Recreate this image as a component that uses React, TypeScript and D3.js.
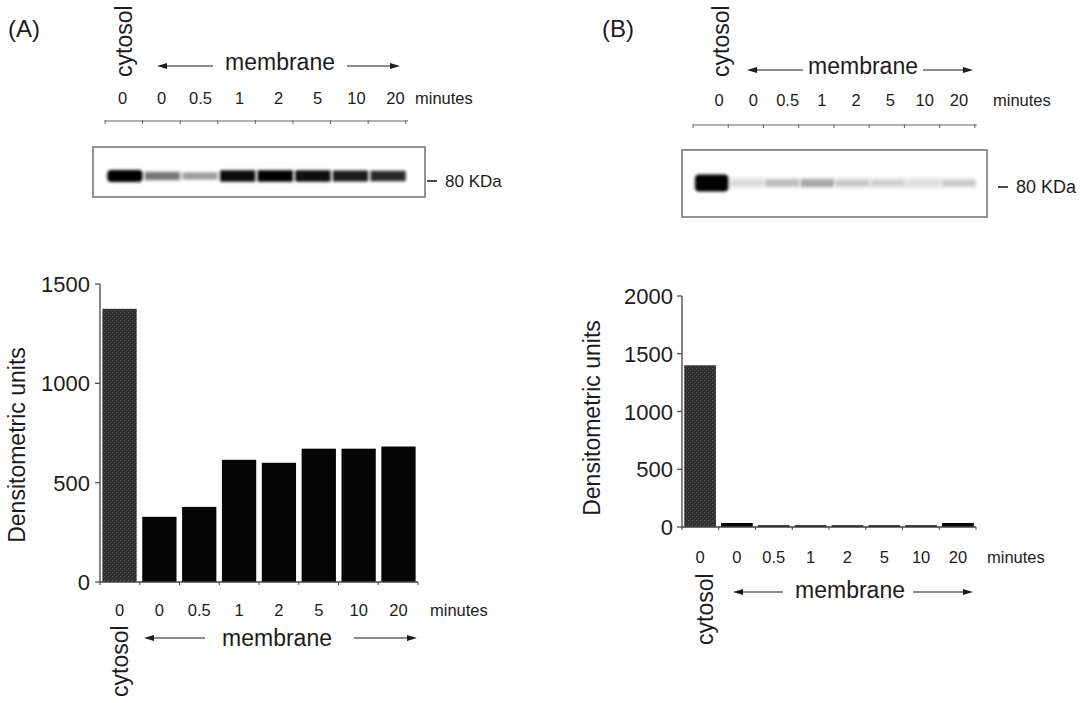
import * as d3 from 'd3';
import { useEffect, useRef } from 'react';

// lane labels (minutes), first lane is cytosol, others membrane
const lanes = ['0', '0', '0.5', '1', '2', '5', '10', '20'];

// densitometric units
const densityA = [1375, 328, 378, 615, 600, 671, 671, 682];
const densityB = [1400, 35, 15, 15, 15, 15, 15, 35];

const ticksA = [0, 500, 1000, 1500];
const ticksB = [0, 500, 1000, 1500, 2000];

// band darkness on the blots (0..1)
const bandsA = [1, 0.5, 0.35, 0.9, 0.95, 0.9, 0.85, 0.8];
const bandsB = [1, 0.08, 0.2, 0.28, 0.15, 0.12, 0.06, 0.14];

const font = "'Liberation Sans', Arial, Helvetica, sans-serif";
const ink = '#1c1c1c';

const panels = [
  {
    letter: '(A)',
    letterX: 8,
    letterY: 37,
    values: densityA,
    ticks: ticksA,
    bands: bandsA,
    top: {
      cytoX: 132, cytoY: 77,
      memX: 280, memY: 70, arrowY: 66, arrowL: [157, 213], arrowR: [347, 400],
      labelY: 104, labelRange: [103, 415], minutesX: 415,
      lineY: 121, laneRange: [105, 408],
      box: [93, 147, 425, 197], bandY: 176, bandH: [5, 7], bandSmear: 0,
      kdaX: 427, kdaY: 181, kdaSize: 17,
    },
    chart: {
      x: [100, 418], y: [582, 284], tickX: 90,
      labelY: 616, minutesX: 430,
      cytoX: 128, cytoY: 697,
      memX: 277, memY: 646, arrowY: 638, arrowL: [144, 205], arrowR: [354, 417],
      titleX: 25, titleY: 445,
    },
  },
  {
    letter: '(B)',
    letterX: 602,
    letterY: 37,
    values: densityB,
    ticks: ticksB,
    bands: bandsB,
    top: {
      cytoX: 729, cytoY: 77,
      memX: 863, memY: 74, arrowY: 70, arrowL: [747, 803], arrowR: [923, 973],
      labelY: 106, labelRange: [702, 976], minutesX: 993,
      lineY: 125, laneRange: [693, 977],
      box: [682, 150, 987, 217], bandY: 183, bandH: [4, 13], bandSmear: 0.07,
      kdaX: 998, kdaY: 187, kdaSize: 18,
    },
    chart: {
      x: [682, 976], y: [527, 296], tickX: 673,
      labelY: 563, minutesX: 987,
      cytoX: 713, cytoY: 645,
      memX: 850, memY: 598, arrowY: 592, arrowL: [733, 783], arrowR: [913, 973],
      titleX: 600, titleY: 418,
    },
  },
];

function App() {
  const chartRef = useRef<SVGSVGElement>(null);

  useEffect(() => {
    const svg = d3.select(chartRef.current);
    svg.selectAll('*').remove();

    const defs = svg.append('defs');
    // stippled fill of the cytosol bar
    const pat = defs
      .append('pattern')
      .attr('id', 'stipple')
      .attr('width', 4)
      .attr('height', 4)
      .attr('patternUnits', 'userSpaceOnUse');
    pat.append('rect').attr('width', 4).attr('height', 4).attr('fill', '#2c2c2c');
    pat.append('rect').attr('x', 0).attr('y', 0).attr('width', 1.3).attr('height', 1.3).attr('fill', '#5e5e5e');
    pat.append('rect').attr('x', 2).attr('y', 2).attr('width', 1.3).attr('height', 1.3).attr('fill', '#505050');

    defs
      .append('filter')
      .attr('id', 'smear')
      .attr('x', '-20%')
      .attr('y', '-100%')
      .attr('width', '140%')
      .attr('height', '300%')
      .append('feGaussianBlur')
      .attr('stdDeviation', 1.6);

    const text = (
      g: d3.Selection<SVGGElement, unknown, null, undefined>,
      x: number,
      y: number,
      s: string,
      size: number,
      anchor = 'start',
      rotate = false
    ) =>
      g
        .append('text')
        .attr('transform', rotate ? `translate(${x},${y}) rotate(-90)` : `translate(${x},${y})`)
        .attr('text-anchor', anchor)
        .attr('font-family', font)
        .attr('font-size', size)
        .attr('fill', ink)
        .text(s);

    const arrow = (
      g: d3.Selection<SVGGElement, unknown, null, undefined>,
      x1: number,
      x2: number,
      y: number
    ) => {
      // head at x2
      const dir = x2 > x1 ? 1 : -1;
      g.append('line')
        .attr('x1', x1)
        .attr('x2', x2 - dir * 6)
        .attr('y1', y)
        .attr('y2', y)
        .attr('stroke', ink)
        .attr('stroke-width', 1.1);
      g.append('path')
        .attr('d', `M${x2},${y} L${x2 - dir * 10},${y - 3} L${x2 - dir * 10},${y + 3} Z`)
        .attr('fill', ink);
    };

    panels.forEach((p) => {
      const g = svg.append('g');
      text(g, p.letterX, p.letterY, p.letter, 24);

      // ---- blot header ----
      const t = p.top;
      text(g, t.cytoX, t.cytoY, 'cytosol', 23, 'start', true);
      text(g, t.memX, t.memY, 'membrane', 23, 'middle');
      arrow(g, t.arrowL[1], t.arrowL[0], t.arrowY);
      arrow(g, t.arrowR[0], t.arrowR[1], t.arrowY);

      const labelScale = d3.scaleBand().domain(d3.range(lanes.length).map(String)).range(t.labelRange);
      lanes.forEach((l, i) => {
        text(g, (labelScale(String(i)) as number) + labelScale.bandwidth() / 2, t.labelY, l, 16.5, 'middle');
      });
      text(g, t.minutesX, t.labelY, 'minutes', 16.5);

      const lane = d3
        .scaleBand()
        .domain(d3.range(lanes.length).map(String))
        .range(t.laneRange)
        .padding(0.06);
      g.append('line')
        .attr('x1', t.laneRange[0])
        .attr('x2', t.laneRange[1])
        .attr('y1', t.lineY)
        .attr('y2', t.lineY)
        .attr('stroke', '#666')
        .attr('stroke-width', 1.2);
      const step = lane.step();
      d3.range(lanes.length + 1).forEach((i) => {
        const x = t.laneRange[0] + i * step;
        g.append('line')
          .attr('x1', x)
          .attr('x2', x)
          .attr('y1', t.lineY - 1)
          .attr('y2', t.lineY + 3)
          .attr('stroke', '#666')
          .attr('stroke-width', 1);
      });

      // blot box
      const [bx0, by0, bx1, by1] = t.box;
      g.append('rect')
        .attr('x', bx0)
        .attr('y', by0)
        .attr('width', bx1 - bx0)
        .attr('height', by1 - by0)
        .attr('fill', 'white')
        .attr('stroke', '#777')
        .attr('stroke-width', 1.6);

      if (t.bandSmear > 0) {
        g.append('rect')
          .attr('x', t.laneRange[0])
          .attr('y', t.bandY - 6)
          .attr('width', t.laneRange[1] - t.laneRange[0])
          .attr('height', 12)
          .attr('fill', '#000')
          .attr('opacity', t.bandSmear)
          .attr('filter', 'url(#smear)');
      }

      g.selectAll('.band')
        .data(p.bands)
        .enter()
        .append('rect')
        .attr('class', 'band')
        .attr('x', (_d, i) => lane(String(i)) as number)
        .attr('width', lane.bandwidth())
        .attr('y', (d) => t.bandY - (t.bandH[0] + t.bandH[1] * d) / 2)
        .attr('height', (d) => t.bandH[0] + t.bandH[1] * d)
        .attr('rx', (_d, i) => (i === 0 ? 4 : 1))
        .attr('fill', '#050505')
        .attr('opacity', (d) => Math.min(1, d * 1.05))
        .attr('filter', 'url(#smear)');

      g.append('line')
        .attr('x1', t.kdaX)
        .attr('x2', t.kdaX + 10)
        .attr('y1', t.kdaY)
        .attr('y2', t.kdaY)
        .attr('stroke', ink)
        .attr('stroke-width', 1.6);
      text(g, t.kdaX + 18, t.kdaY + 6, '80 KDa', t.kdaSize);

      // ---- bar chart ----
      const c = p.chart;
      const x = d3
        .scaleBand()
        .domain(d3.range(lanes.length).map(String))
        .range(c.x)
        .paddingInner(0.14)
        .paddingOuter(0.06);
      const y = d3
        .scaleLinear()
        .domain([0, d3.max(p.ticks) as number])
        .range(c.y);

      g.selectAll('.bar')
        .data(p.values)
        .enter()
        .append('rect')
        .attr('class', 'bar')
        .attr('x', (_d, i) => x(String(i)) as number)
        .attr('width', x.bandwidth())
        .attr('y', (d) => y(d))
        .attr('height', (d) => y(0) - y(d))
        .attr('fill', (_d, i) => (i === 0 ? 'url(#stipple)' : '#050505'));

      // y axis
      g.append('line')
        .attr('x1', c.x[0])
        .attr('x2', c.x[0])
        .attr('y1', y(0))
        .attr('y2', y(d3.max(p.ticks) as number))
        .attr('stroke', '#444')
        .attr('stroke-width', 1.3);
      p.ticks.forEach((v) => {
        g.append('line')
          .attr('x1', c.x[0] - 5)
          .attr('x2', c.x[0])
          .attr('y1', y(v))
          .attr('y2', y(v))
          .attr('stroke', '#444')
          .attr('stroke-width', 1.2);
        text(g, c.tickX, y(v) + 8, String(v), 22, 'end');
      });

      // x axis
      g.append('line')
        .attr('x1', c.x[0])
        .attr('x2', c.x[1])
        .attr('y1', y(0))
        .attr('y2', y(0))
        .attr('stroke', '#444')
        .attr('stroke-width', 1.3);
      d3.range(lanes.length + 1).forEach((i) => {
        const xx = c.x[0] + i * ((c.x[1] - c.x[0]) / lanes.length);
        g.append('line')
          .attr('x1', xx)
          .attr('x2', xx)
          .attr('y1', y(0))
          .attr('y2', y(0) + 3)
          .attr('stroke', '#444')
          .attr('stroke-width', 1);
      });

      lanes.forEach((l, i) => {
        text(g, (x(String(i)) as number) + x.bandwidth() / 2, c.labelY, l, 16.5, 'middle');
      });
      text(g, c.minutesX, c.labelY, 'minutes', 16.5);
      text(g, c.cytoX, c.cytoY, 'cytosol', 23, 'start', true);
      text(g, c.memX, c.memY, 'membrane', 23, 'middle');
      arrow(g, c.arrowL[1], c.arrowL[0], c.arrowY);
      arrow(g, c.arrowR[0], c.arrowR[1], c.arrowY);
      text(g, c.titleX, c.titleY, 'Densitometric units', 23, 'middle', true);
    });
  }, []);

  return (
    <div style={{ position: 'absolute', left: 0, top: 0, width: 1081, height: 703, background: 'white' }}>
      <svg ref={chartRef} width={1081} height={703} style={{ display: 'block' }} />
    </div>
  );
}

export default App;
